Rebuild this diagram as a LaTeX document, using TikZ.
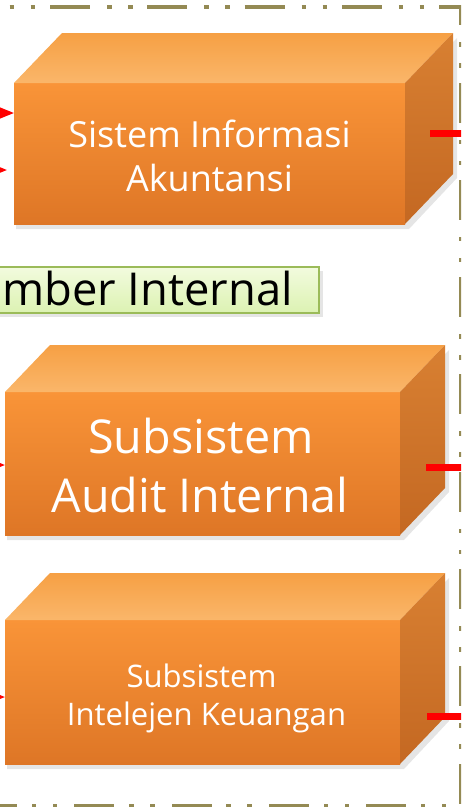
\documentclass[tikz,border=0pt]{standalone}
\usepackage{fontspec}
\setmainfont{Open Sans}
\usetikzlibrary{arrows.meta}
\definecolor{borderc}{RGB}{148,138,84}
\definecolor{fronttop}{RGB}{249,148,56}
\definecolor{frontbot}{RGB}{222,118,38}
\definecolor{toptop}{RGB}{246,160,68}
\definecolor{topbot}{RGB}{250,182,106}
\definecolor{sidetop}{RGB}{216,128,50}
\definecolor{sidebot}{RGB}{196,104,34}
\definecolor{lgtop}{RGB}{242,251,222}
\definecolor{lgbot}{RGB}{220,242,178}
\definecolor{lgborder}{RGB}{155,187,89}
\definecolor{redc}{RGB}{255,0,0}
\tikzset{
  frontface/.style={shape=rectangle, inner sep=0pt, outer sep=0pt, top color=fronttop, bottom color=frontbot, draw=none},
  topface/.style={top color=toptop, bottom color=topbot},
  sideface/.style={top color=sidetop, bottom color=sidebot},
  boxshadow/.style={fill=black, opacity=0.10},
  boxtext/.style={text=white, inner sep=0pt, anchor=base},
  redline/.style={draw=redc, line width=5.25pt},
  redarrow/.style={draw=redc, line width=1.5pt, -{Triangle[length=10.5pt,width=8pt]}},
  labelbox/.style={draw=lgborder, line width=1.5pt, top color=lgtop, bottom color=lgbot},
  bordline/.style={draw=borderc, line width=3pt, dash pattern=on 30pt off 12.75pt on 3.375pt off 12.375pt on 3.375pt off 11.1pt}
}
\begin{document}
\begin{tikzpicture}[x=0.75pt,y=-0.75pt]
\useasboundingbox (0,0) rectangle (461,807);
\clip (0,0) rectangle (461,807);
\fill[white] (0,0) rectangle (461,807);

% border
\draw[bordline] (-47.3,7) -- (461,7) -- (461,806) -- (-60,806);

% ---------- Box 1 ----------
\fill[boxshadow] (16,88) -- (409,88) -- (457,38) -- (457,178) -- (409,229) -- (16,229) -- cycle;
\node[frontface, minimum width=293.25pt, minimum height=105.75pt] (b1) at (209.5,153.5) {};
\shade[topface] (b1.north west) -- ++(48,-50) -- ++(391,0) -- (b1.north east) -- cycle;
\shade[sideface] (b1.north east) -- ++(48,-50) -- ++(0,141) -- (b1.south east) -- cycle;
\node[boxtext, font=\fontsize{27pt}{32pt}\selectfont] (t1a) at (209.5,147) {Sistem Informasi};
\node[boxtext, font=\fontsize{27pt}{32pt}\selectfont] (t1b) at (209.5,191) {Akuntansi};

% ---------- Label ----------
\fill[boxshadow] (-20,271) rectangle (323,317);
\node[labelbox, minimum width=254.25pt, minimum height=34.5pt, inner sep=0pt, outer sep=0pt] (lab) at (149.5,290) {};
\node[inner sep=0pt, anchor=base west, font=\fontsize{34pt}{40pt}\selectfont] (labt) at (2,305) {mber Internal};

% ---------- Box 2 ----------
\fill[boxshadow] (7,397) -- (404,397) -- (449,350) -- (449,492) -- (404,540) -- (7,540) -- cycle;
\node[frontface, minimum width=296.25pt, minimum height=107.25pt] (b2) at (202.5,463.5) {};
\shade[topface] (b2.north west) -- ++(45,-47) -- ++(395,0) -- (b2.north east) -- cycle;
\shade[sideface] (b2.north east) -- ++(45,-47) -- ++(0,143) -- (b2.south east) -- cycle;
\node[boxtext, font=\fontsize{35pt}{42pt}\selectfont] (t2a) at (201,453) {Subsistem};
\node[boxtext, font=\fontsize{35pt}{42pt}\selectfont] (t2b) at (200,512) {Audit Internal};

% ---------- Box 3 ----------
\fill[boxshadow] (7,625) -- (404,625) -- (449,578) -- (449,721) -- (404,769) -- (7,769) -- cycle;
\node[frontface, minimum width=296.25pt, minimum height=108pt] (b3) at (202.5,692) {};
\shade[topface] (b3.north west) -- ++(45,-47) -- ++(395,0) -- (b3.north east) -- cycle;
\shade[sideface] (b3.north east) -- ++(45,-47) -- ++(0,144) -- (b3.south east) -- cycle;
\node[boxtext, font=\fontsize{23.3pt}{28pt}\selectfont] (t3a) at (201.5,687) {Subsistem};
\node[boxtext, font=\fontsize{23.3pt}{28pt}\selectfont] (t3b) at (206.5,725) {Intelejen Keuangan};

% ---------- left arrows (sources off-canvas) ----------
\coordinate (s1) at (-40,113);
\coordinate (s2) at (-40,170);
\coordinate (s3) at (-40,465);
\coordinate (s4) at (-40,697);
\coordinate (e2) at (7,170);
\draw[redarrow] (s1) -- (b1.west |- s1);
\draw[redarrow] (s2) -- (e2);
\draw[redarrow] (s3) -- (b2.west |- s3);
\draw[redarrow] (s4) -- (b3.west |- s4);

% ---------- right red lines ----------
\coordinate (r1a) at (430,133); \coordinate (r1b) at (470,133);
\coordinate (r2a) at (426,467); \coordinate (r2b) at (470,467);
\coordinate (r3a) at (427,716); \coordinate (r3b) at (470,716);
\draw[redline] (r1a) -- (r1b);
\draw[redline] (r2a) -- (r2b);
\draw[redline] (r3a) -- (r3b);
\end{tikzpicture}
\end{document}
